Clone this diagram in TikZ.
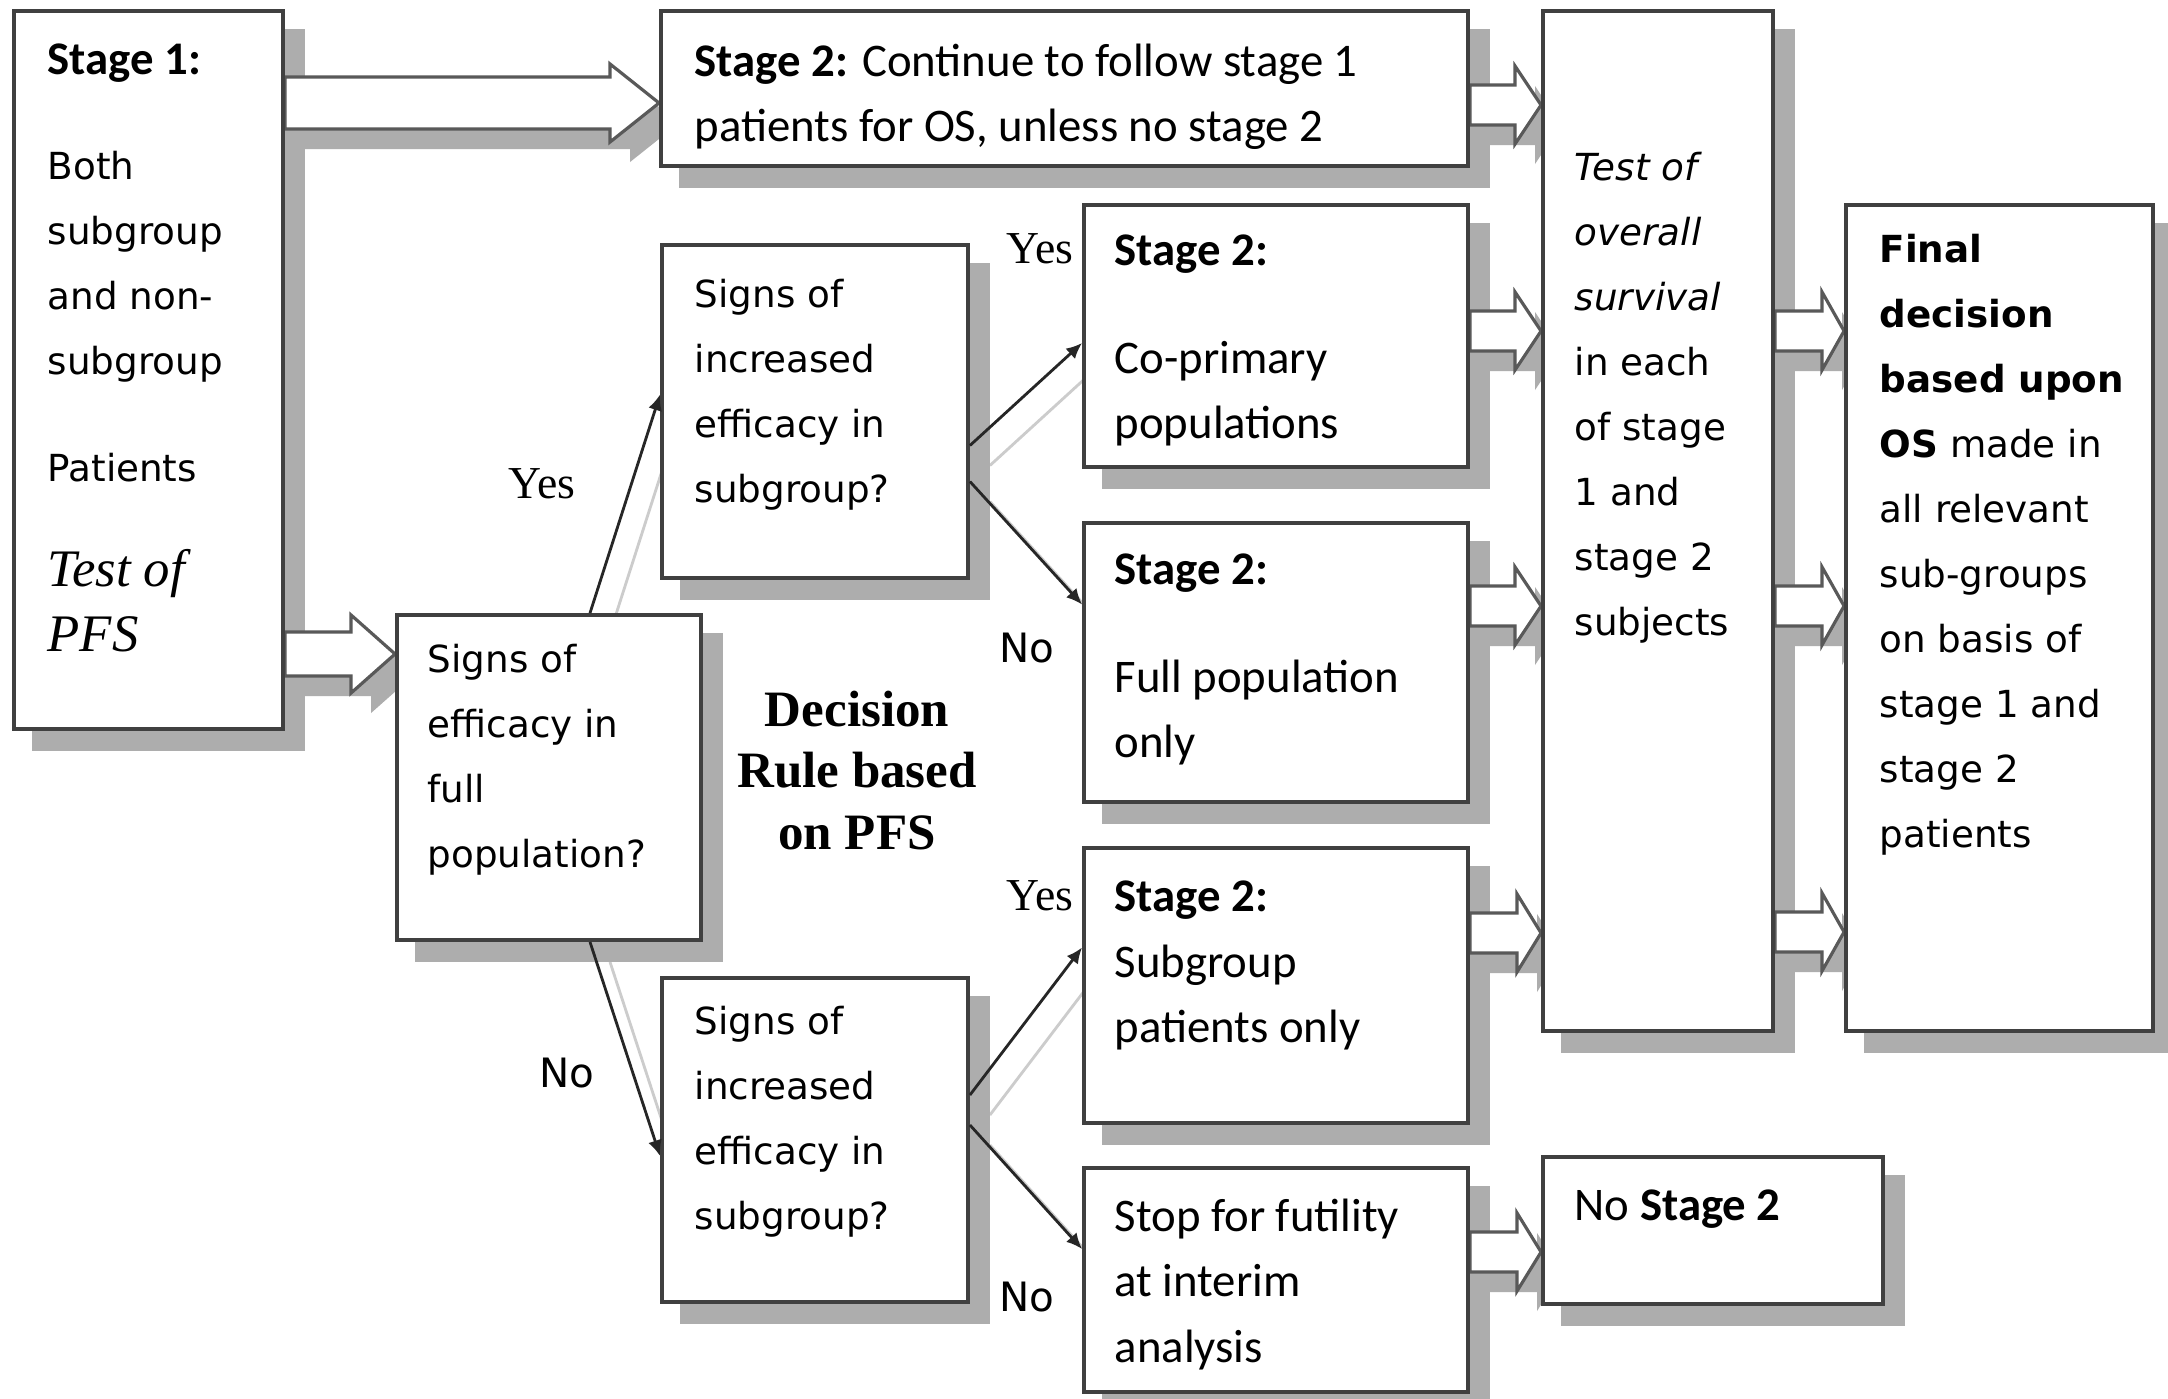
\documentclass[tikz,border=0pt]{standalone}
\usepackage{fontspec}
\newfontfamily\verd{DejaVu Sans}
\newfontfamily\calib{Carlito}
\newfontfamily\tms{Liberation Serif}
\usepackage{tikz}
\usetikzlibrary{arrows.meta, calc, fit}
\pgfdeclarelayer{shade}
\pgfdeclarelayer{blk}
\pgfsetlayers{shade,blk,main}

% hollow block arrow: from, to, y, head length, shaft half height
\newcommand{\blockarrow}[5]{%
  \path (0,#3) coordinate (bay) (#1.east |- bay) coordinate (bas) (#2.west |- bay) coordinate (bae);
  \begin{pgfonlayer}{shade}
    \fill[boxshade, transform canvas={shift={(20,20)}}] ($(bas)+(0,-#5)$) -- ($(bae)+(-#4,-#5)$) -- ($(bae)+(-#4,-39)$) -- (bae) -- ($(bae)+(-#4,39)$) -- ($(bae)+(-#4,#5)$) -- ($(bas)+(0,#5)$) -- cycle;
  \end{pgfonlayer}
  \begin{pgfonlayer}{blk}
    \filldraw[blockarr] ($(bas)+(0,-#5)$) -- ($(bae)+(-#4,-#5)$) -- ($(bae)+(-#4,-39)$) -- (bae) -- ($(bae)+(-#4,39)$) -- ($(bae)+(-#4,#5)$) -- ($(bas)+(0,#5)$) -- cycle;
  \end{pgfonlayer}}

\begin{document}
\begin{tikzpicture}[x=0.01cm, y=-0.01cm,
    box/.style={draw=black!75, line width=1.1pt, fill=white, inner sep=0pt},
    txt/.style={anchor=north west, inner sep=0pt, align=left},
    verdtxt/.style={txt, font=\verd\fontsize{10.6}{18.5}\selectfont},
    calibtxt/.style={txt, font=\calib\fontsize{13.3}{18.7}\selectfont},
    yesno/.style={font=\tms\fontsize{13}{15}\selectfont},
    nolab/.style={font=\verd\fontsize{11.5}{14}\selectfont},
    link/.style={-{Latex[length=4.5pt,width=4pt]}, black!85, line width=0.8pt},
    linkshade/.style={black!20, line width=0.8pt},
    boxshade/.style={fill=black!32},
    blockarr/.style={fill=white, draw=black!65, line width=0.9pt}
]
\useasboundingbox (0,0) rectangle (2168,1399);
\begin{pgfonlayer}{shade}
  \fill[white] (0,0) rectangle (2168,1399);
\end{pgfonlayer}

% Boxes
\node[box, fit={(14,11) (283,729)}] (stage1) {};
\node[box, fit={(661,11) (1468,166)}] (topbox) {};
\node[box, fit={(662,245) (968,578)}] (subq1) {};
\node[box, fit={(1084,205) (1468,467)}] (coprim) {};
\node[box, fit={(1084,523) (1468,802)}] (fullpop) {};
\node[box, fit={(397,615) (701,940)}] (fullq) {};
\node[box, fit={(662,978) (968,1302)}] (subq2) {};
\node[box, fit={(1084,848) (1468,1123)}] (subpop) {};
\node[box, fit={(1084,1168) (1468,1392)}] (stop) {};
\node[box, fit={(1543,11) (1773,1031)}] (testos) {};
\node[box, fit={(1846,205) (2153,1031)}] (final) {};
\node[box, fit={(1543,1157) (1883,1304)}] (nostage) {};

% Box texts
\node[verdtxt] (stage1txt) at (47,43) {{\calib\bfseries\fontsize{13.3}{18.5}\selectfont Stage 1:}\\[0.4cm] Both\\ subgroup\\ and non-\\ subgroup\\[0.42cm] Patients\\[0.4cm] {\tms\itshape\fontsize{15}{18.5}\selectfont Test of}\\ {\tms\itshape\fontsize{15}{18.5}\selectfont PFS}};
\node[calibtxt] (toptxt) at (694,43) {\textbf{Stage 2:} Continue to follow stage 1\\ patients for OS, unless no stage 2};
\node[verdtxt] (subq1txt) at (694,278) {Signs of\\ increased\\ efficacy in\\ subgroup?};
\node[calibtxt] (coprimtxt) at (1114,234) {\textbf{Stage 2:}\\[0.42cm] Co-primary\\ populations};
\node[calibtxt] (fullpoptxt) at (1114,553) {\textbf{Stage 2:}\\[0.42cm] Full population\\ only};
\node[verdtxt] (fullqtxt) at (427,643) {Signs of\\ efficacy in\\ full\\ population?};
\node[verdtxt] (subq2txt) at (694,1005) {Signs of\\ increased\\ efficacy in\\ subgroup?};
\node[calibtxt] (subpoptxt) at (1114,880) {\textbf{Stage 2:}\\ Subgroup\\ patients only};
\node[calibtxt] (stoptxt) at (1114,1198) {Stop for futility\\ at interim\\ analysis};
\node[verdtxt] (testostxt) at (1574,151) {{\itshape Test of}\\ {\itshape overall}\\ {\itshape survival}\\ in each\\ of stage\\ 1 and\\ stage 2\\ subjects};
\node[verdtxt] (finaltxt) at (1879,233) {\textbf{Final}\\ \textbf{decision}\\ \textbf{based upon}\\ \textbf{OS} made in\\ all relevant\\ sub-groups\\ on basis of\\ stage 1 and\\ stage 2\\ patients};
\node[calibtxt] (nostagetxt) at (1574,1189) {No \textbf{Stage 2}};
\node[font=\tms\bfseries\fontsize{14.5}{17.5}\selectfont, align=center, anchor=north, inner sep=0pt] (ruletxt) at (857,690) {Decision\\ Rule based\\ on PFS};

% Yes / No labels
\node[yesno] (yes1) at (542,484) {Yes};
\node[yesno] (yes2) at (1040,249) {Yes};
\node[nolab] (no1) at (1027,648) {No};
\node[yesno] (yes3) at (1040,896) {Yes};
\node[nolab] (no2) at (567,1073) {No};
\node[nolab] (no3) at (1027,1297) {No};

% Connector ends
\path ($(fullq.north)+(41,0)$) coordinate (fqtop) ($(fullq.south)+(41,0)$) coordinate (fqbot)
  ($(subq1.west)+(0,-17)$) coordinate (sq1in) ($(subq2.west)+(0,16)$) coordinate (sq2in)
  ($(subq1.east)+(0,34)$) coordinate (sq1yes) ($(subq1.east)+(0,70)$) coordinate (sq1no)
  ($(coprim.west)+(0,7)$) coordinate (cpin) ($(fullpop.west)+(0,-58)$) coordinate (fpin)
  ($(subq2.east)+(0,-45)$) coordinate (sq2yes) ($(subq2.east)+(0,-15)$) coordinate (sq2no)
  ($(subpop.west)+(0,-38)$) coordinate (spin) ($(stop.west)+(0,-31)$) coordinate (stin);

% Shadows
\begin{pgfonlayer}{shade}
  \foreach \a/\b in {fqtop/sq1in, fqbot/sq2in, sq1yes/cpin, sq1no/fpin, sq2yes/spin, sq2no/stin}
    \draw[linkshade, transform canvas={shift={(20,20)}}] (\a) -- (\b);
  \foreach \n in {stage1,topbox,subq1,coprim,fullpop,fullq,subq2,subpop,stop,testos,final,nostage}
    \fill[boxshade, transform canvas={shift={(20,20)}}] (\n.north west) rectangle (\n.south east);
\end{pgfonlayer}

% Decision links
\foreach \a/\b in {fqtop/sq1in, fqbot/sq2in, sq1yes/cpin, sq1no/fpin, sq2yes/spin, sq2no/stin}
  \draw[link] (\a) -- (\b);

% Block arrows
\blockarrow{stage1}{topbox}{103}{49}{26}
\blockarrow{stage1}{fullq}{654}{44}{22}
\blockarrow{topbox}{testos}{105}{26}{20}
\blockarrow{coprim}{testos}{331}{26}{20}
\blockarrow{fullpop}{testos}{606}{26}{20}
\blockarrow{subpop}{testos}{933}{24}{20}
\blockarrow{stop}{nostage}{1252}{24}{20}
\blockarrow{testos}{final}{331}{22}{20}
\blockarrow{testos}{final}{606}{22}{20}
\blockarrow{testos}{final}{932}{22}{20}
\end{tikzpicture}
\end{document}
